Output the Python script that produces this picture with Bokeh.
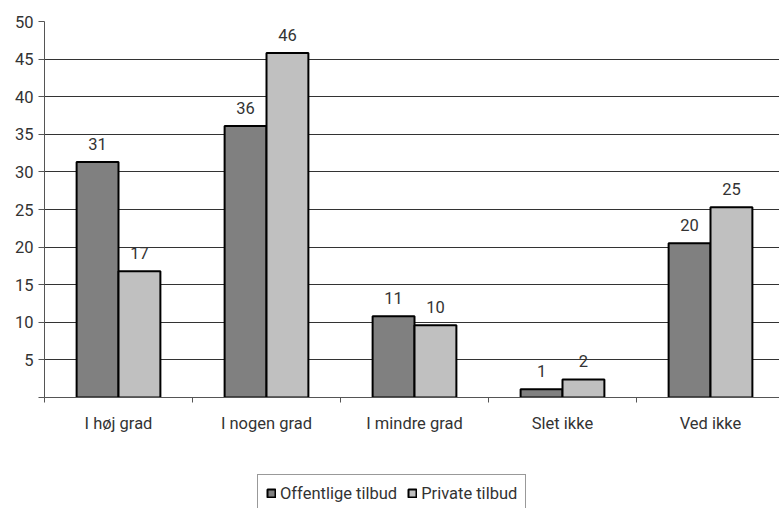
from bokeh.plotting import figure
from bokeh.layouts import column
from bokeh.models import ColumnDataSource, Range1d, FixedTicker, Legend, LegendItem, LabelSet
from bokeh.embed import file_html
from bokeh.resources import INLINE
from bokeh.core.properties import value

categories = ["I høj grad", "I nogen grad", "I mindre grad", "Slet ikke", "Ved ikke"]
offentlige = [31.3, 36.1, 10.8, 1.1, 20.5]
private = [16.8, 45.8, 9.6, 2.4, 25.3]
offentlige_labels = ["31", "36", "11", "1", "20"]
private_labels = ["17", "46", "10", "2", "25"]
series_names = ["Offentlige tilbud", "Private tilbud"]
y_ticks = [0, 5, 10, 15, 20, 25, 30, 35, 40, 45, 50]

FONT = "Roboto"
FS = "16.5px"
TXT = "#333333"
DARK, LIGHT = "#808080", "#C0C0C0"
W = 779
H1, H2 = 470, 38
LEFT, TOP, BOTTOM = 44, 21, 73
cat_px = 148.0
x_end = (W - LEFT) / cat_px

p = figure(width=W, height=H1, output_backend="svg", toolbar_location=None,
           x_range=Range1d(0, x_end), y_range=Range1d(0, 50),
           min_border_left=LEFT, min_border_right=0, min_border_top=TOP,
           min_border_bottom=BOTTOM, outline_line_color=None)

n = len(categories)
centers = [i + 0.5 for i in range(n)]
bw = 0.283
src1 = ColumnDataSource(dict(x=[c - bw / 2 for c in centers], top=offentlige, lab=offentlige_labels))
src2 = ColumnDataSource(dict(x=[c + bw / 2 for c in centers], top=private, lab=private_labels))

p.vbar(x="x", top="top", width=bw, source=src1, fill_color=DARK, line_color="black", line_width=2)
p.vbar(x="x", top="top", width=bw, source=src2, fill_color=LIGHT, line_color="black", line_width=2)

for s in (src1, src2):
    p.add_layout(LabelSet(x="x", y="top", text="lab", source=s, text_align="center",
                          text_baseline="bottom", y_offset=12, text_font=value(FONT),
                          text_font_size=FS, text_color=TXT))

p.xgrid.visible = False
p.ygrid.ticker = FixedTicker(ticks=y_ticks[1:])
p.ygrid.grid_line_color = "#333333"
p.ygrid.grid_line_width = 1

xa = p.xaxis[0]
xa.ticker = FixedTicker(ticks=centers, minor_ticks=list(range(n + 1)))
xa.major_label_overrides = {c: lab for c, lab in zip(centers, categories)}
xa.major_tick_out = 0
xa.major_tick_in = 0
xa.minor_tick_out = 5
xa.minor_tick_in = 0
xa.minor_tick_line_color = "#555555"
xa.axis_line_color = "#555555"
xa.major_label_standoff = 11
xa.major_label_text_font = FONT
xa.major_label_text_font_size = FS
xa.major_label_text_color = TXT

ya = p.yaxis[0]
ya.ticker = FixedTicker(ticks=y_ticks)
ya.major_label_overrides = {0: ""}
ya.major_tick_out = 6
ya.major_tick_in = 0
ya.minor_tick_line_color = None
ya.axis_line_color = "#555555"
ya.major_tick_line_color = "#555555"
ya.major_label_standoff = 5
ya.major_label_text_font = FONT
ya.major_label_text_font_size = FS
ya.major_label_text_color = TXT

# legend strip (its frame is aligned with the chart's frame by the column layout)
q = figure(width=W, height=H2, output_backend="svg", toolbar_location=None,
           x_axis_type=None, y_axis_type=None, x_range=Range1d(0, 1), y_range=Range1d(0, 1),
           min_border_left=0, min_border_right=0, min_border_top=0, min_border_bottom=0,
           outline_line_color=None)
q.xgrid.visible = False
q.ygrid.visible = False
# tiny proxy marks hidden behind the opaque legend box; they only supply the legend swatches
lr1 = q.vbar(x=[0.5], bottom=[0.3], top=[0.35], width=0.005, fill_color=DARK, line_color="black", line_width=2)
lr2 = q.vbar(x=[0.5], bottom=[0.3], top=[0.35], width=0.005, fill_color=LIGHT, line_color="black", line_width=2)
legend = Legend(items=[LegendItem(label=series_names[0], renderers=[lr1], index=0),
                       LegendItem(label=series_names[1], renderers=[lr2], index=0)],
                orientation="horizontal", location=(257 - LEFT, -4),
                label_text_font=FONT, label_text_font_size=FS, label_text_color=TXT,
                glyph_width=10, glyph_height=10, spacing=10, label_standoff=4,
                padding=8, margin=0, border_line_color="#333333", border_line_width=1,
                label_height=20, background_fill_color="white", background_fill_alpha=1)
q.add_layout(legend, "center")

open("out.html", "w").write(file_html(column(p, q, spacing=0), INLINE))
